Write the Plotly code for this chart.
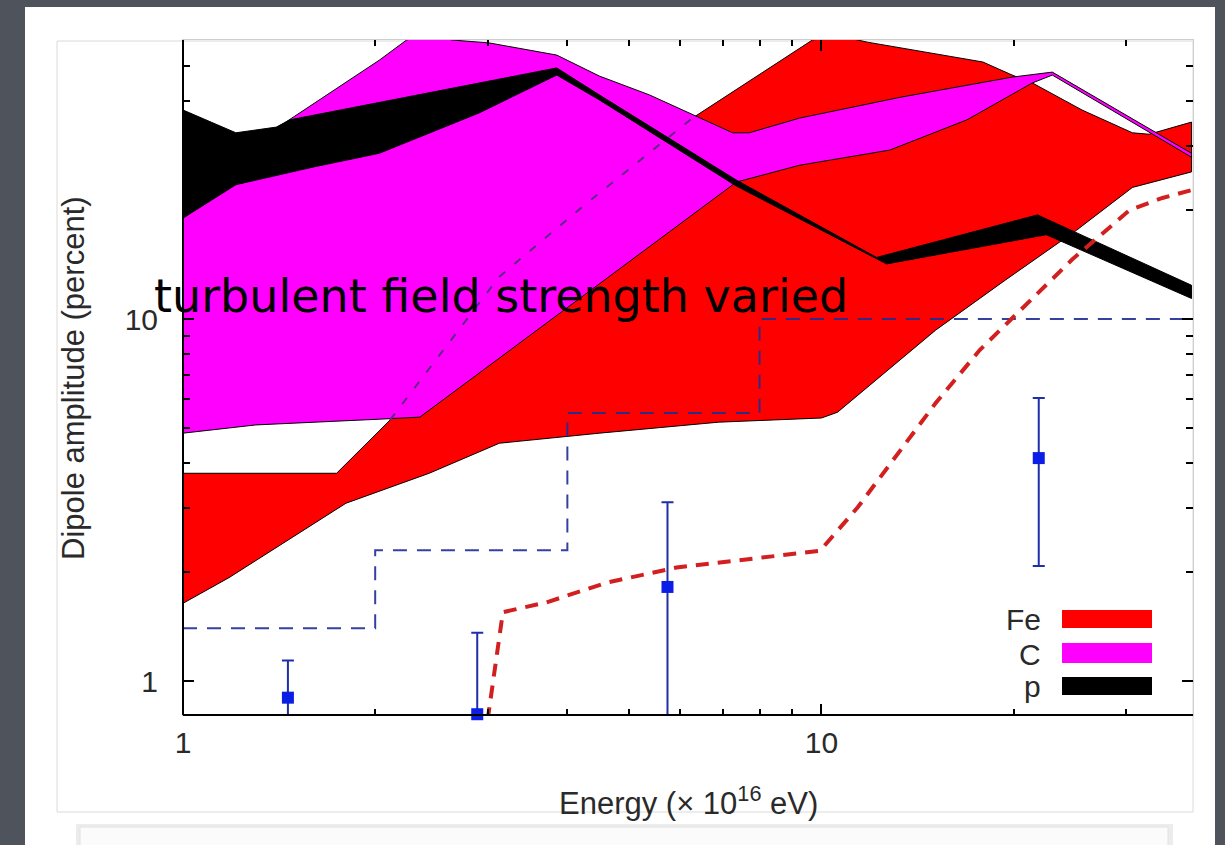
import numpy as np
import plotly.graph_objects as go

# Fe band (upper / lower envelope over the range of turbulent field strengths)
fe_up_e = [1.00, 1.74, 2.11, 2.74, 3.13, 4.22, 6.28, 9.68, 10.7, 11.8, 14.9, 17.9, 19.9, 21.4, 25.6, 30.7, 32.6, 38.0]
fe_up = [3.75, 3.75, 5.26, 9.63, 13.1, 20.4, 35.9, 59.0, 60.5, 58.2, 54.3, 51.3, 47.2, 44.9, 37.8, 32.7, 32.4, 35.0]
fe_lo_e = [1.00, 1.18, 1.80, 2.43, 3.13, 4.49, 6.90, 10.0, 10.6, 15.1, 19.4, 25.1, 30.7, 38.0]
fe_lo = [1.64, 1.93, 3.10, 3.75, 4.54, 4.84, 5.19, 5.33, 5.53, 9.32, 12.8, 17.6, 23.1, 25.5]

# C band
c_up_e = [1.00, 1.47, 2.03, 2.24, 2.43, 2.64, 3.02, 3.85, 4.49, 5.38, 6.44, 7.26, 7.71, 9.24, 13.3, 19.9, 23.0, 38.0]
c_up = [22.7, 35.5, 51.9, 59.0, 61.3, 59.0, 57.9, 53.6, 46.9, 41.6, 36.1, 32.7, 32.7, 35.9, 41.0, 46.6, 48.1, 28.7]
c_lo_e = [1.00, 1.30, 1.60, 2.03, 2.35, 7.36, 9.24, 12.8, 16.9, 21.4, 23.0, 38.0]
c_lo = [4.84, 5.10, 5.19, 5.29, 5.36, 23.9, 26.6, 29.3, 35.5, 44.9, 47.2, 28.0]

# proton band
p_up_e = [1.00, 1.21, 1.40, 1.47, 3.85, 4.49, 7.36, 12.2, 21.8, 38.0]
p_up = [37.8, 32.7, 33.9, 35.5, 49.4, 41.6, 24.2, 14.8, 19.4, 12.4]
p_lo_e = [1.00, 1.21, 1.60, 2.03, 2.91, 3.85, 4.49, 7.36, 12.65, 22.5, 38.0]
p_lo = [19.0, 23.5, 26.3, 28.7, 37.1, 47.2, 40.3, 23.3, 14.2, 17.1, 11.4]

# upper-limit steps (blue dashed)
step_e = [1, 2, 4, 8, 38]
step_amp = [1.4, 2.3, 5.5, 10, 10]

# model curve (red dashed)
model_e = [3.0, 3.17, 3.71, 4.61, 5.93, 9.95, 11.4, 15.1, 17.7, 24.7, 30.4, 34.2, 38.0]
model_amp = [0.78, 1.55, 1.65, 1.87, 2.06, 2.29, 3.02, 5.86, 8.21, 14.6, 20.0, 21.6, 22.7]

# measured amplitudes with error bars
pt_e = [1.46, 2.89, 5.74, 21.9]
pt_amp = [0.90, 0.81, 1.82, 4.13]
pt_hi = [1.14, 1.36, 3.12, 6.05]
pt_lo = [0.5, 0.5, 0.5, 2.08]

x_ticks = [1, 10]
x_minor = [2, 3, 4, 5, 6, 7, 8, 9, 20, 30]
y_ticks = [1, 10]
y_minor = [2, 3, 4, 5, 6, 7, 8, 9, 20, 30, 40, 50]

legend_names = ["Fe", "C", "p"]
band_colors = ["#ff0000", "#ff00ff", "#000000"]

FONT = "Liberation Sans, Arial, sans-serif"
TXT = "#2a2a2a"


def polygon(ue, u, le, l):
    return list(ue) + list(le)[::-1], list(u) + list(l)[::-1]


fig = go.Figure()

bands = [(fe_up_e, fe_up, fe_lo_e, fe_lo),
         (c_up_e, c_up, c_lo_e, c_lo),
         (p_up_e, p_up, p_lo_e, p_lo)]
for (ue, u, le, l), col in zip(bands, band_colors):
    xs, ys = polygon(ue, u, le, l)
    fig.add_trace(go.Scatter(x=xs, y=ys, mode="lines", fill="toself",
                             fillcolor=col, line=dict(color="black", width=1),
                             hoverinfo="skip", showlegend=False))

# Fe upper envelope where it runs under the C band
fig.add_trace(go.Scatter(x=fe_up_e[2:7], y=fe_up[2:7], mode="lines",
                         line=dict(color="#5a2d85", width=2, dash="8px,12px"),
                         hoverinfo="skip", showlegend=False))

fig.add_trace(go.Scatter(x=step_e, y=step_amp, mode="lines", line_shape="hv",
                         line=dict(color="#1f2d96", width=2, dash="14px,10px"),
                         opacity=0.9, hoverinfo="skip", showlegend=False))

fig.add_trace(go.Scatter(x=model_e, y=model_amp, mode="lines",
                         line=dict(color="#d21f1f", width=4, dash="13px,9px"),
                         hoverinfo="skip", showlegend=False))

err_plus = [h - v for h, v in zip(pt_hi, pt_amp)]
err_minus = [v - lo for v, lo in zip(pt_amp, pt_lo)]
fig.add_trace(go.Scatter(x=pt_e, y=pt_amp, mode="markers",
                         marker=dict(size=1, color="rgba(0,0,0,0)"),
                         error_y=dict(type="data", array=err_plus, arrayminus=err_minus,
                                      color="#1f2fa8", thickness=2, width=6),
                         hoverinfo="skip", showlegend=False))
fig.add_trace(go.Scatter(x=pt_e, y=pt_amp, mode="markers", cliponaxis=False,
                         marker=dict(symbol="square", size=12, color="#0a1ee6",
                                     line=dict(width=0)),
                         hoverinfo="skip", showlegend=False))

axis_common = dict(type="log", showgrid=False, zeroline=False, showline=True,
                   linecolor="#cdcdcd", linewidth=1, mirror="ticks",
                   ticks="inside", ticklen=11, tickwidth=1.5, tickcolor="black",
                   tickfont=dict(family=FONT, size=30, color=TXT))

fig.update_xaxes(**axis_common, range=[0, np.log10(38.2)],
                 tickvals=x_ticks, ticktext=[str(v) for v in x_ticks],
                 ticklabelstandoff=1,
                 minor=dict(tickvals=x_minor, ticks="inside", ticklen=6,
                            tickwidth=1.5, tickcolor="black"))
fig.update_yaxes(**axis_common, range=[np.log10(0.806), np.log10(59.0)],
                 tickvals=y_ticks, ticktext=[str(v) for v in y_ticks],
                 ticklabelstandoff=18,
                 minor=dict(tickvals=y_minor, ticks="inside", ticklen=7,
                            tickwidth=1.5, tickcolor="black"))

# pixel -> paper helpers for the page furniture around the plot
PL, PR, PT, PB = 183, 1193, 40, 715


def px(x):
    return (x - PL) / (PR - PL)


def py(y):
    return (PB - y) / (PB - PT)


shapes = [
    # white slide panel
    dict(type="rect", xref="paper", yref="paper", x0=px(25), x1=px(1215),
         y0=py(7), y1=py(860), fillcolor="white", line=dict(width=0), layer="below"),
    # figure frame
    dict(type="rect", xref="paper", yref="paper", x0=px(57), x1=px(1193),
         y0=py(41), y1=py(812), fillcolor="rgba(0,0,0,0)",
         line=dict(color="#dadada", width=1), layer="below"),
    # text box below the figure
    dict(type="rect", xref="paper", yref="paper", x0=px(76), x1=px(1173),
         y0=py(824), y1=py(870), fillcolor="#ececec", line=dict(width=0), layer="below"),
    dict(type="rect", xref="paper", yref="paper", x0=px(80), x1=px(1168),
         y0=py(827), y1=py(870), fillcolor="#fbfbfb",
         line=dict(color="#e2e2e2", width=1), layer="below"),
    # solid left and bottom axes
    dict(type="line", xref="paper", yref="paper", x0=0, x1=0, y0=0, y1=1,
         line=dict(color="black", width=2)),
    dict(type="line", xref="paper", yref="paper", x0=0, x1=1, y0=0, y1=0,
         line=dict(color="black", width=2)),
]

annotations = []
# key: label then colour swatch
key_rows = [(610, 628, 619), (643, 663, 654), (677, 695, 686)]
for name, col, (s0, s1, ty) in zip(legend_names, band_colors, key_rows):
    shapes.append(dict(type="rect", xref="paper", yref="paper", x0=px(1062), x1=px(1152),
                       y0=py(s0), y1=py(s1), fillcolor=col, line=dict(width=0)))
    annotations.append(dict(xref="paper", yref="paper", x=px(1043), y=py(ty),
                            text=name, showarrow=False, xanchor="right", yanchor="middle",
                            font=dict(family=FONT, size=30, color=TXT)))

annotations += [
    dict(xref="paper", yref="paper", x=px(688), y=py(801),
         text="Energy (× 10<sup>16</sup> eV)", showarrow=False,
         xanchor="center", yanchor="middle",
         font=dict(family=FONT, size=31, color=TXT)),
    dict(xref="paper", yref="paper", x=px(73), y=py(378),
         text="Dipole amplitude (percent)", showarrow=False, textangle=-90,
         xanchor="center", yanchor="middle",
         font=dict(family=FONT, size=31, color=TXT)),
    dict(xref="paper", yref="paper", x=px(501), y=py(296),
         text="turbulent field strength varied", showarrow=False,
         xanchor="center", yanchor="middle",
         font=dict(family="DejaVu Sans", size=46, color="black")),
]

fig.update_layout(
    width=1225, height=845, autosize=False,
    margin=dict(l=PL, r=1225 - PR, t=PT, b=845 - PB, pad=0),
    paper_bgcolor="#4f535c", plot_bgcolor="white",
    shapes=shapes, annotations=annotations, showlegend=False,
)

fig.write_html("out.html", config={"displayModeBar": False})
